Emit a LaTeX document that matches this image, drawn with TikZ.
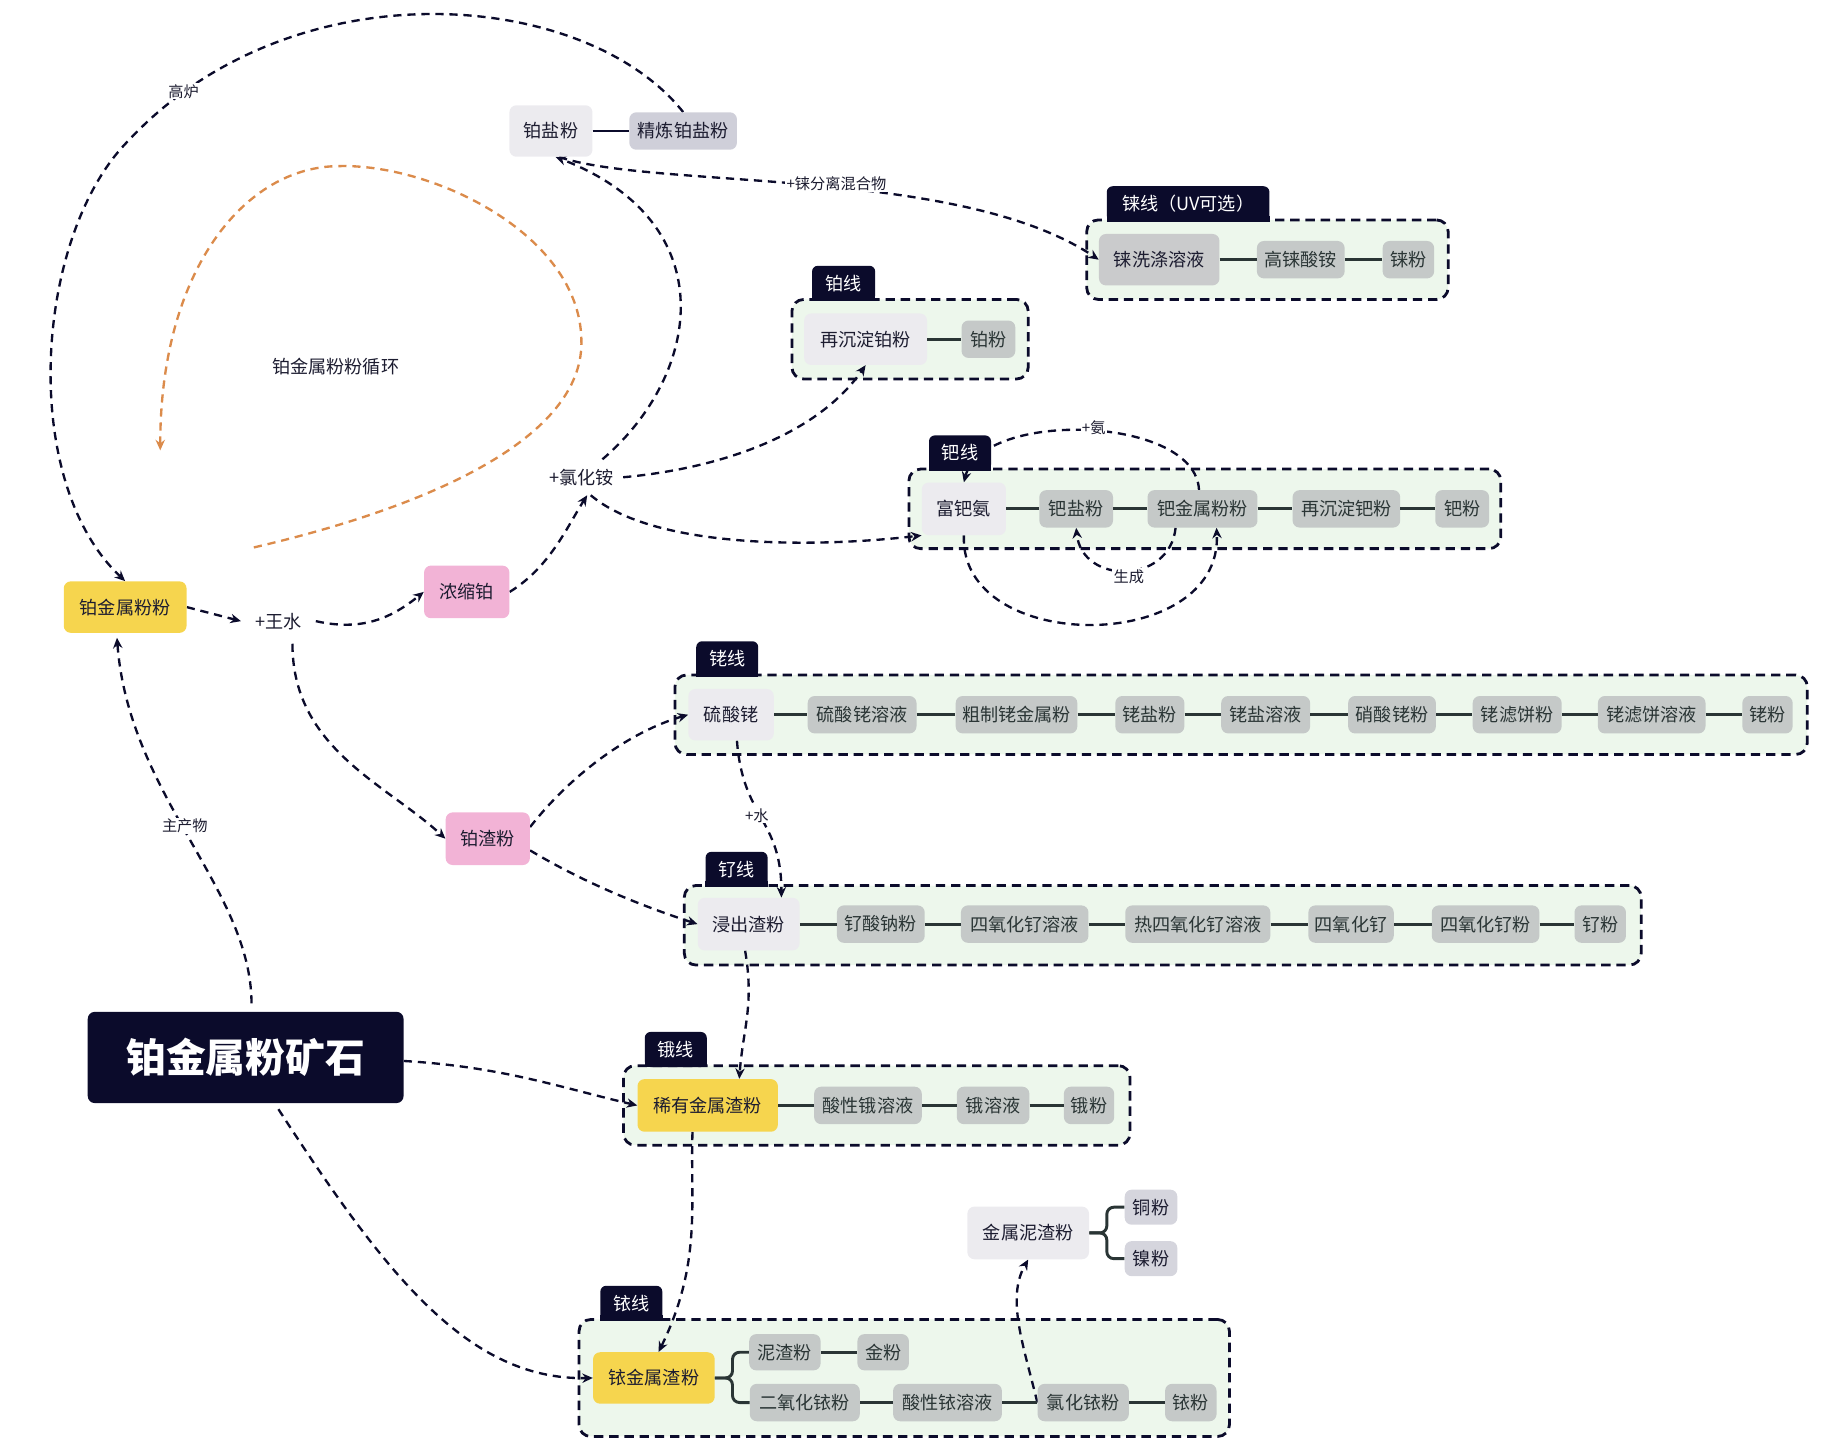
\documentclass[tikz,border=0pt]{standalone}
\usepackage{fontspec}
\setmainfont{Noto Sans CJK SC}
\usetikzlibrary{arrows.meta,calc}
\definecolor{cNavy}{HTML}{0B0B2B}
\definecolor{cInk}{HTML}{1C1C30}
\definecolor{cSlate}{HTML}{2A3535}
\definecolor{cYel}{HTML}{F6D54E}
\definecolor{cPink}{HTML}{F2B3D6}
\definecolor{cPale}{HTML}{ECEBEF}
\definecolor{cGry}{HTML}{C5C9C8}
\definecolor{cGryB}{HTML}{CACBCC}
\definecolor{cRefine}{HTML}{CFCFD9}
\definecolor{cLight}{HTML}{D5D5DD}
\definecolor{cCont}{HTML}{EDF7EC}
\definecolor{cOrange}{HTML}{DB8B4B}
\newcommand\fsN{\fontsize{15.5}{18}\selectfont}
\newcommand\fsS{\fontsize{13}{15}\selectfont}
\newcommand\fsB{\fontsize{34}{40}\selectfont\bfseries}
\pgfdeclarelayer{bglayer}
\pgfdeclarelayer{connlayer}
\pgfsetlayers{bglayer,connlayer,main}
\tikzset{
  nd/.style={rounded corners=6pt, inner sep=0pt, font=\fsN, text=cInk, minimum height=32},
  head/.style={nd, fill=cPale, minimum height=45},
  gnode/.style={nd, fill=cGry, text=cSlate, minimum height=32},
  cont/.style={draw=cNavy, line width=2.4pt, dash pattern=on 8pt off 5pt, fill=cCont, rounded corners=10pt, inner sep=0pt},
  tabn/.style={fill=cNavy, text=white, font=\fsN, rounded corners=5pt, inner sep=0pt, minimum height=30, anchor=north west},
  link/.style={draw=cSlate, line width=2.5pt},
  flow/.style={draw=cNavy, line width=2pt, dash pattern=on 7pt off 5pt, -{Stealth[length=9pt,width=8pt]}},
  orng/.style={draw=cOrange, line width=2pt, dash pattern=on 7pt off 5pt, -{Stealth[length=9pt,width=8pt]}},
  lbl/.style={font=\fsS, fill=white, inner sep=1pt, text=cInk},
  junc/.style={font=\fsN, text=cInk, inner sep=8pt},
}
\begin{document}
\begin{tikzpicture}[x=1pt,y=-1pt]
\useasboundingbox (0,0) rectangle (1567,1237);

% containers
\begin{pgfonlayer}{bglayer}
\node[cont, minimum width=309, minimum height=68] (boxRe) at (1083.5,222) {};
\node[cont, minimum width=202, minimum height=68] (boxPt) at (778,290) {};
\node[cont, minimum width=506, minimum height=68] (boxPd) at (1030,435) {};
\node[cont, minimum width=968, minimum height=68] (boxRh) at (1061,611) {};
\node[cont, minimum width=818, minimum height=68] (boxRu) at (994,791) {};
\node[cont, minimum width=433, minimum height=68] (boxOs) at (749.5,945) {};
\node[cont, minimum width=556, minimum height=100] (boxIr) at (773,1178) {};
\end{pgfonlayer}

% main nodes
\node[head, minimum width=71, minimum height=44] (ptSalt) at (471,112) {铂盐粉};
\node[nd, fill=cRefine, minimum width=92] (ptRefine) at (584,112) {精炼铂盐粉};
\node[nd, fill=cYel, minimum width=105, minimum height=44] (ptPowder) at (107,519) {铂金属粉粉};
\node[junc, inner sep=12pt] (wangshui) at (238,531) {+王水};
\node[nd, fill=cPink, minimum width=73, minimum height=45] (nongsuo) at (399,506) {浓缩铂};
\node[junc] (lvhuaan) at (497,408) {+氯化铵};
\node[nd, fill=cPink, minimum width=72, minimum height=45] (zhafen) at (417,717) {铂渣粉};
\node[nd, fill=cNavy, text=white, font=\fsB, minimum width=270, minimum height=78] (ore) at (210,904) {铂金属粉矿石};
\node[junc] (cycle) at (287,313) {铂金属粉粉循环};
\coordinate (cycS) at (217,468);
\coordinate (cycE) at (137,385);

% Re line
\node[nd, fill=cGryB, minimum width=103, minimum height=44] (re1) at (991,222) {铼洗涤溶液};
\node[gnode, minimum width=75] (re2) at (1112,222) {高铼酸铵};
\node[gnode, minimum width=44] (re3) at (1204,222) {铼粉};
% Pt line
\node[head, minimum width=105, minimum height=44] (pt1) at (740,290) {再沉淀铂粉};
\node[gnode, minimum width=46] (pt2) at (845,290) {铂粉};
% Pd line
\node[head, minimum width=72] (pd1) at (824,435) {富钯氨};
\node[gnode, minimum width=63] (pd2) at (920,435) {钯盐粉};
\node[gnode, minimum width=94] (pd3) at (1028,435) {钯金属粉粉};
\node[gnode, minimum width=92] (pd4) at (1151,435) {再沉淀钯粉};
\node[gnode, minimum width=46] (pd5) at (1250,435) {钯粉};
% Rh line
\node[head, minimum width=73, minimum height=44] (rh1) at (625,611) {硫酸铑};
\node[gnode, minimum width=93] (rh2) at (737,611) {硫酸铑溶液};
\node[gnode, minimum width=104] (rh3) at (869,611) {粗制铑金属粉};
\node[gnode, minimum width=59] (rh4) at (983,611) {铑盐粉};
\node[gnode, minimum width=76] (rh5) at (1082,611) {铑盐溶液};
\node[gnode, minimum width=75] (rh6) at (1190,611) {硝酸铑粉};
\node[gnode, minimum width=76] (rh7) at (1297,611) {铑滤饼粉};
\node[gnode, minimum width=92] (rh8) at (1412,611) {铑滤饼溶液};
\node[gnode, minimum width=43] (rh9) at (1511,611) {铑粉};
% Ru line
\node[head, minimum width=87] (ru1) at (640,790) {浸出渣粉};
\node[gnode, minimum width=75] (ru2) at (753,790) {钌酸钠粉};
\node[gnode, minimum width=109] (ru3) at (876,790) {四氧化钌溶液};
\node[gnode, minimum width=124] (ru4) at (1024,790) {热四氧化钌溶液};
\node[gnode, minimum width=73] (ru5) at (1155,790) {四氧化钌};
\node[gnode, minimum width=92] (ru6) at (1270,790) {四氧化钌粉};
\node[gnode, minimum width=44] (ru7) at (1368,790) {钌粉};
% Os line
\node[nd, fill=cYel, minimum width=120, minimum height=45] (os1) at (605,945) {稀有金属渣粉};
\node[gnode, minimum width=92] (os2) at (742,945) {酸性锇溶液};
\node[gnode, minimum width=62] (os3) at (849,945) {锇溶液};
\node[gnode, minimum width=43] (os4) at (931,945) {锇粉};
% Ir line
\node[nd, fill=cYel, minimum width=104, minimum height=44] (ir0) at (559,1178) {铱金属渣粉};
\node[gnode, minimum width=61, minimum height=31] (irA) at (671,1156) {泥渣粉};
\node[gnode, minimum width=44, minimum height=31] (irB) at (755,1156) {金粉};
\node[gnode, minimum width=94] (ir1) at (688,1199) {二氧化铱粉};
\node[gnode, minimum width=93] (ir2) at (810,1199) {酸性铱溶液};
\node[gnode, minimum width=78] (ir3) at (926,1199) {氯化铱粉};
\node[gnode, minimum width=44] (ir4) at (1018,1199) {铱粉};
% mud
\node[head, minimum width=104] (mud) at (879,1054) {金属泥渣粉};
\node[nd, fill=cLight, minimum width=45, minimum height=30] (cu) at (984,1032) {铜粉};
\node[nd, fill=cLight, minimum width=45, minimum height=30] (ni) at (984,1076) {镍粉};

% solid links
\draw[link, draw=cNavy] (ptSalt.east) -- (ptRefine.west);
\draw[link] (re1.east) -- (re2.west) (re2.east) -- (re3.west);
\draw[link] (pt1.east) -- (pt2.west);
\draw[link] (pd1.east) -- (pd2.west) (pd2.east) -- (pd3.west) (pd3.east) -- (pd4.west) (pd4.east) -- (pd5.west);
\draw[link] (rh1.east) -- (rh2.west) (rh2.east) -- (rh3.west) (rh3.east) -- (rh4.west) (rh4.east) -- (rh5.west)
  (rh5.east) -- (rh6.west) (rh6.east) -- (rh7.west) (rh7.east) -- (rh8.west) (rh8.east) -- (rh9.west);
\draw[link] (ru1.east) -- (ru2.west) (ru2.east) -- (ru3.west) (ru3.east) -- (ru4.west) (ru4.east) -- (ru5.west)
  (ru5.east) -- (ru6.west) (ru6.east) -- (ru7.west);
\draw[link] (os1.east) -- (os2.west) (os2.east) -- (os3.west) (os3.east) -- (os4.west);
\draw[link] (irA.east) -- (irB.west);
\draw[link] (ir1.east) -- (ir2.west) (ir2.east) -- (ir3.west) (ir3.east) -- (ir4.west);
\draw[link, rounded corners=6pt] (ir0.east) -- ++(15,0) |- (irA.west);
\draw[link, rounded corners=6pt] (ir0.east) -- ++(15,0) |- (ir1.west);
\draw[link, rounded corners=6pt] (mud.east) -- ++(15,0) |- (cu.west);
\draw[link, rounded corners=6pt] (mud.east) -- ++(15,0) |- (ni.west);

% dashed connectors
\begin{pgfonlayer}{connlayer}
\draw[flow] (ptRefine.north) .. controls (500,-10) and (250,-30) .. (110,120) .. controls (30,200) and (15,410) .. (ptPowder.north);
\draw[orng] (cycS) .. controls (380,430) and (500,370) .. (497,290) .. controls (495,200) and (370,140) .. (290,142) .. controls (210,142) and (137,230) .. (cycE);
\draw[flow] (ptPowder.east) -- (wangshui.west);
\draw[flow] (wangshui.east) .. controls (310,540) and (335,528) .. (nongsuo.west);
\draw[flow] (nongsuo.east) .. controls (470,485) and (485,450) .. ([xshift=5pt]lvhuaan.south);
\draw[flow] ([xshift=18pt]lvhuaan.north) .. controls (600,320) and (620,190) .. ([xshift=4pt]ptSalt.south);
\draw[flow] ([xshift=7pt]ptSalt.south) .. controls (560,162) and (820,142) .. (re1.west);
\draw[flow] (lvhuaan.east) .. controls (620,400) and (700,370) .. (pt1.south);
\draw[flow] ([xshift=8pt]lvhuaan.south) .. controls (560,470) and (700,468) .. (pd1.south west);
\draw[flow] ([xshift=12pt]wangshui.south) .. controls (250,640) and (330,670) .. (zhafen.west);
\draw[flow] ([yshift=10pt]zhafen.east) .. controls (490,660) and (540,625) .. (rh1.west);
\draw[flow] ([yshift=-10pt]zhafen.east) .. controls (500,755) and (550,775) .. (ru1.west);
\draw[flow] ([xshift=5pt,yshift=7pt]ore.north) .. controls (215,760) and (110,680) .. ([xshift=-7pt,yshift=-4pt]ptPowder.south);
\draw[flow] ([yshift=-3pt]ore.east) .. controls (430,912) and (480,930) .. (os1.west);
\draw[flow] ([xshift=28pt,yshift=-5pt]ore.south) .. controls (330,1090) and (400,1180) .. (ir0.west);
\draw[flow] ([xshift=-3pt]pd3.north) .. controls (1022,355) and (840,350) .. (pd1.north);
\draw[flow] ([xshift=-23pt]pd3.south) .. controls (1000,500) and (925,500) .. (pd2.south);
\draw[flow] (pd1.south) .. controls (820,560) and (1045,560) .. ([xshift=12pt]pd3.south);
\draw[flow] ([xshift=5pt]rh1.south) .. controls (635,700) and (668,700) .. ([xshift=28pt]ru1.north);
\draw[flow] ([xshift=-3pt]ru1.south) .. controls (645,860) and (635,880) .. ([xshift=27pt]os1.north);
\draw[flow] ([xshift=-13pt]os1.south) .. controls (590,1030) and (600,1080) .. ([xshift=4pt]ir0.north);
\draw[flow] (ir3.west) .. controls (875,1150) and (860,1110) .. (mud.south);
\end{pgfonlayer}

% tabs
\node[tabn, minimum width=139] (tabRe) at (946,159) {铼线（UV可选）};
\fill[cNavy] ([yshift=5pt]tabRe.south west) rectangle (tabRe.south east);
\node[tabn, minimum width=54] (tabPt) at (694,227) {铂线};
\fill[cNavy] ([yshift=5pt]tabPt.south west) rectangle (tabPt.south east);
\node[tabn, minimum width=53] (tabPd) at (794,372) {钯线};
\fill[cNavy] ([yshift=5pt]tabPd.south west) rectangle (tabPd.south east);
\node[tabn, minimum width=53] (tabRh) at (595,548) {铑线};
\fill[cNavy] ([yshift=5pt]tabRh.south west) rectangle (tabRh.south east);
\node[tabn, minimum width=53] (tabRu) at (603,728) {钌线};
\fill[cNavy] ([yshift=5pt]tabRu.south west) rectangle (tabRu.south east);
\node[tabn, minimum width=53] (tabOs) at (551,882) {锇线};
\fill[cNavy] ([yshift=5pt]tabOs.south west) rectangle (tabOs.south east);
\node[tabn, minimum width=53] (tabIr) at (513,1099) {铱线};
\fill[cNavy] ([yshift=5pt]tabIr.south west) rectangle (tabIr.south east);

% edge labels
\node[lbl] (lGaolu) at (157,78) {高炉};
\node[lbl] (lRe) at (715,157) {+铼分离混合物};
\node[lbl] (lAn) at (935,366) {+氨};
\node[lbl] (lSc) at (965,493) {生成};
\node[lbl] (lMain) at (158,706) {主产物};
\node[lbl] (lWater) at (647,697) {+水};
\end{tikzpicture}
\end{document}
